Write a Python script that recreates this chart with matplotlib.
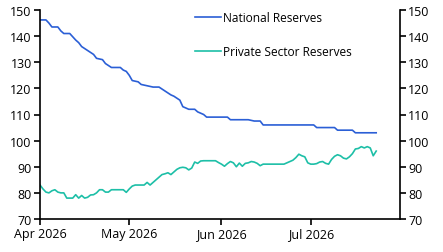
import matplotlib.pyplot as plt
import matplotlib.dates as mdates
import pandas as pd

plt.rcParams['font.family'] = ['Open Sans', 'DejaVu Sans']

# National reserves (step-like)
nat_dates = ["2026-04-01", "2026-04-03", "2026-04-04", "2026-04-05", "2026-04-07",
             "2026-04-08", "2026-04-09", "2026-04-11", "2026-04-13", "2026-04-14",
             "2026-04-15", "2026-04-17", "2026-04-19", "2026-04-20", "2026-04-22",
             "2026-04-23", "2026-04-25", "2026-04-28", "2026-04-29", "2026-04-30",
             "2026-05-01", "2026-05-02", "2026-05-04", "2026-05-05", "2026-05-07",
             "2026-05-09", "2026-05-11", "2026-05-13", "2026-05-15", "2026-05-16",
             "2026-05-18", "2026-05-19", "2026-05-21", "2026-05-23", "2026-05-24",
             "2026-05-26", "2026-05-27", "2026-06-03", "2026-06-04", "2026-06-10",
             "2026-06-12", "2026-06-14", "2026-06-15", "2026-07-02", "2026-07-03",
             "2026-07-09", "2026-07-10", "2026-07-15", "2026-07-16", "2026-07-23"]
nat_vals = [146.2, 146.2, 145, 143.5, 143.5,
            142, 141, 141, 138.5, 137.5,
            136, 134.5, 133, 131.5, 131,
            129.5, 128, 128, 127, 126.5,
            125, 123, 122.5, 121.5, 121,
            120.5, 120.5, 119, 117.5, 117,
            115.5, 113, 112, 112, 111,
            110, 109, 109, 108, 108,
            107.5, 107.5, 106, 106, 105,
            105, 104, 104, 103, 103]

# Private sector reserves, daily Apr 1 - Jul 23
priv_start = "2026-04-01"
priv_vals = [
    # April
    83, 81.5, 80.3, 80, 80.8, 81.2, 80.3, 80, 80, 78,
    78, 78, 79.3, 78, 79, 78, 78.3, 79.2, 79.3, 80,
    81.2, 81.2, 80.3, 80.3, 81.2, 81.2, 81.2, 81.2, 81.2, 80.2,
    # May
    81.5, 82.6, 83, 83, 83, 83, 84, 83, 84, 85,
    86, 87, 87.3, 87.7, 87, 88, 89, 89.6, 89.8, 89.6,
    88.8, 89.5, 91.8, 91.3, 92.2, 92.3, 92.3, 92.3, 92.3, 92.3, 91.6,
    # June
    91, 90.2, 91.2, 92, 91.5, 90, 91.4, 90.2, 91.3, 91.5,
    92, 91.8, 91.3, 90.4, 91, 91, 91, 91, 91, 91,
    91, 91, 91.5, 92, 92.5, 93.5, 94.8, 94.2, 93.8, 91.5,
    # July
    91, 91, 91.2, 91.8, 92, 91.3, 91, 92.8, 94, 94.6,
    94.2, 93.3, 93, 93.8, 95, 96.8, 97, 97.7, 97.2, 97.7,
    97.2, 94.2, 96]

tick_dates = ["2026-04-01", "2026-05-01", "2026-06-01", "2026-07-01"]
tick_labels = ["Apr 2026", "May 2026", "Jun 2026", "Jul 2026"]

nat_x = pd.to_datetime(nat_dates)
priv_x = pd.date_range(priv_start, periods=len(priv_vals), freq="D")

fig = plt.figure(figsize=(4.43, 2.53), dpi=100)
ax = fig.add_axes([40 / 443, 1 - 220 / 253, 360 / 443, 209 / 253])

ax.plot(nat_x, nat_vals, color="#2b5fd6", lw=1.2, label="National Reserves")
ax.plot(priv_x, priv_vals, color="#1dbfa7", lw=1.2, label="Private Sector Reserves")

ax.set_ylim(70, 150)
ax.set_yticks(range(70, 151, 10))
ax.set_xlim(pd.Timestamp("2026-04-01"), pd.Timestamp("2026-07-31"))
ax.set_xticks(pd.to_datetime(tick_dates))
ax.set_xticklabels(tick_labels)

for s in ["top", "right"]:
    ax.spines[s].set_visible(False)
ax.spines["left"].set_linewidth(1.2)
ax.spines["bottom"].set_linewidth(1.2)
ax.tick_params(direction="out", length=4, width=1.2, labelsize=9, pad=2)

ax2 = ax.twinx()
ax2.set_ylim(70, 150)
ax2.set_yticks(range(70, 151, 10))
for s in ["top", "left", "bottom"]:
    ax2.spines[s].set_visible(False)
ax2.spines["right"].set_linewidth(1.2)
ax2.tick_params(direction="out", length=4, width=1.2, labelsize=9, pad=2)

ax.legend(loc="upper left", bbox_to_anchor=(0.43, 0.995), frameon=False,
          fontsize=8.6, handlelength=2.2, handletextpad=0.15, labelspacing=1.75,
          borderpad=0, borderaxespad=0)

fig.savefig("out.png", dpi=100)
